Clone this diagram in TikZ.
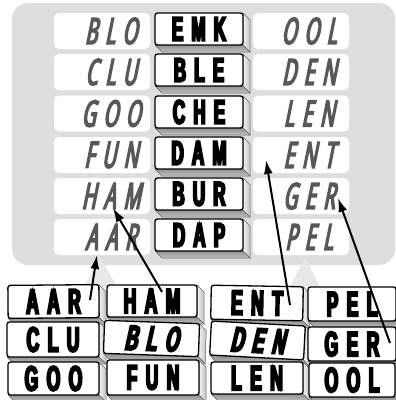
\documentclass[tikz,border=0pt]{standalone}
\usepackage{fontspec}
\usetikzlibrary{arrows.meta}
\newfontfamily\handfont[FakeStretch=0.52,FakeSlant=0.2,FakeBold=4.5,LetterSpace=22]{Open Sans}
\newfontfamily\keyfont[FakeStretch=0.5,FakeBold=5.5,LetterSpace=24]{Liberation Sans}
\newfontfamily\keyslfont[FakeStretch=0.5,FakeBold=5.5,FakeSlant=0.18,LetterSpace=24]{Liberation Sans}
\definecolor{panelgray}{RGB}{222,222,222}
\definecolor{trigray}{RGB}{232,232,232}
\definecolor{handgray}{RGB}{88,88,88}
\tikzset{
  wbox/.style={fill=white,rounded corners=5pt,minimum width=96pt,minimum height=36pt,inner sep=0pt},
  handtxt/.style={text=handgray,font=\handfont\fontsize{36}{36}\selectfont,inner sep=0pt},
  keyface/.style={draw=black,line width=1.3pt,fill=white,rounded corners=2.5pt,inner sep=0pt},
  bevside/.style={left color=gray!8,right color=gray!50,draw=black!60,line width=0.5pt},
  bevbot/.style={top color=gray!85,bottom color=gray!50,draw=black!60,line width=0.5pt},
  arr/.style={line width=2pt,-{Latex[length=14pt,width=9pt]}},
}
\newcommand\keytile[8]{%
  \begin{scope}[shift={(#2,#3)},rotate=#6]
    \pgfmathsetmacro\ka{#4/2}\pgfmathsetmacro\kb{#5/2}
    \path[bevside] (\ka,-\kb) -- (\ka+7,-\kb+7) -- (\ka+7,\kb+7) -- (\ka,\kb) -- cycle;
    \path[bevbot] (-\ka,\kb) -- (\ka,\kb) -- (\ka+7,\kb+7) -- (-\ka+7,\kb+7) -- cycle;
    \node[keyface,minimum width=#4pt,minimum height=#5pt,transform shape] (#1) at (0,0) {#7#8};
  \end{scope}}
\newcommand\midfont{\keyfont\bfseries\fontsize{34}{34}\selectfont}
\newcommand\botfont{\keyfont\bfseries\fontsize{35}{35}\selectfont}
\newcommand\botslfont{\keyslfont\bfseries\fontsize{35}{35}\selectfont}
\begin{document}
\begin{tikzpicture}[x=1pt,y=-1pt]
\useasboundingbox (0,0) rectangle (396,400);
\fill[panelgray,rounded corners=16pt] (12,3) rectangle (395,265);
\fill[trigray] (100,257) -- (84,287) -- (117,287) -- cycle;
\fill[trigray] (305,257) -- (290,287) -- (320,287) -- cycle;
% left column
\node[wbox] (lb1) at (102,31) {};
\node[wbox] (lb2) at (102,72) {};
\node[wbox] (lb3) at (102,113.5) {};
\node[wbox] (lb4) at (102,155) {};
\node[wbox] (lb5) at (102,196) {};
\node[wbox] (lb6) at (102,237) {};
\node[handtxt] (lt1) at (lb1.center) [xshift=9pt] {BLO};
\node[handtxt] (lt2) at (lb2.center) [xshift=9pt] {CLU};
\node[handtxt] (lt3) at (lb3.center) [xshift=9pt] {GOO};
\node[handtxt] (lt4) at (lb4.center) [xshift=9pt] {FUN};
\node[handtxt] (lt5) at (lb5.center) [xshift=9pt] {HAM};
\node[handtxt] (lt6) at (lb6.center) [xshift=9pt] {AAR};
% right column
\node[wbox] (rb1) at (301,31) {};
\node[wbox] (rb2) at (301,72) {};
\node[wbox] (rb3) at (301,113.5) {};
\node[wbox] (rb4) at (301,155) {};
\node[wbox] (rb5) at (301,196) {};
\node[wbox] (rb6) at (301,237) {};
\node[handtxt] (rt1) at (rb1.center) [xshift=8pt] {OOL};
\node[handtxt] (rt2) at (rb2.center) [xshift=8pt] {DEN};
\node[handtxt] (rt3) at (rb3.center) [xshift=8pt] {LEN};
\node[handtxt] (rt4) at (rb4.center) [xshift=8pt] {ENT};
\node[handtxt] (rt5) at (rb5.center) [xshift=8pt] {GER};
\node[handtxt] (rt6) at (rb6.center) [xshift=8pt] {PEL};
% middle keys
\keytile{m1}{199}{29}{88}{32}{0}{\midfont}{EMK}
\keytile{m2}{199}{70}{88}{32}{0}{\midfont}{BLE}
\keytile{m3}{199}{112}{88}{32}{0}{\midfont}{CHE}
\keytile{m4}{199}{153}{88}{32}{0}{\midfont}{DAM}
\keytile{m5}{199}{194}{88}{32}{0}{\midfont}{BUR}
\keytile{m6}{199}{235}{88}{32}{0}{\midfont}{DAP}
% bottom tiles
\keytile{bAAR}{53.5}{301.5}{91}{33}{0.5}{\botfont}{AAR}
\keytile{bCLU}{53}{339.5}{92}{35}{0}{\botfont}{CLU}
\keytile{bGOO}{53.5}{378.5}{91}{33}{0}{\botfont}{GOO}
\keytile{bHAM}{152}{301}{90}{32}{0}{\botfont}{HAM}
\keytile{bBLO}{151.5}{338.5}{95}{33}{-2}{\botslfont}{BLO}
\keytile{bFUN}{153}{377.5}{92}{35}{0}{\botfont}{FUN}
\keytile{bENT}{257}{303}{92}{34}{-1}{\botfont}{ENT}
\keytile{bDEN}{257.5}{340.5}{94}{34}{-3}{\botslfont}{DEN}
\keytile{bLEN}{257}{378}{92}{32}{0}{\botfont}{LEN}
\keytile{bPEL}{352}{304}{88}{34}{0}{\botfont}{PEL}
\keytile{bGER}{352}{344}{88}{34}{0}{\botfont}{GER}
\keytile{bOOL}{352}{380}{86}{34}{0}{\botfont}{OOL}
% arrows
\coordinate (s1) at (90,300); \coordinate (e1) at (97,255);
\coordinate (s2) at (162,292); \coordinate (e2) at (113,208);
\coordinate (s3) at (290,305); \coordinate (e3) at (266,160);
\coordinate (s4) at (390,343); \coordinate (e4) at (338,198);
\draw[arr] (s1) -- (e1);
\draw[arr] (s2) -- (e2);
\draw[arr] (s3) -- (e3);
\draw[arr] (s4) -- (e4);
\end{tikzpicture}
\end{document}
